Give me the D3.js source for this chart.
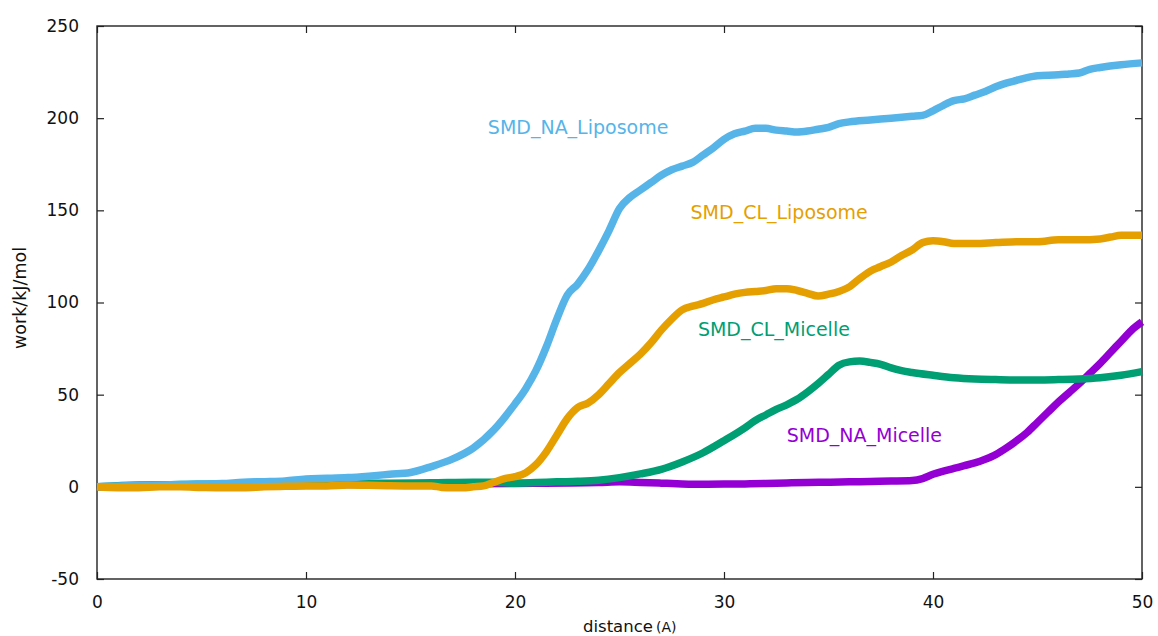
<!DOCTYPE html>
<html>
<head>
<meta charset="utf-8">
<script src="https://cdn.jsdelivr.net/npm/d3@7"></script>
<style>
  html, body { margin: 0; padding: 0; background: #fff; }
  svg { display: block; font-family: "DejaVu Sans", sans-serif; }
</style>
</head>
<body>
<svg id="chart" width="1158" height="636"></svg>
<script>
// Pulling work (kJ/mol) versus distance (Å), one series per system
const naMicelle = [
  [0,0],[5,0.5],[10,1],[15,1.5],[20,1.8],[24,2.3],[25,2.7],[26,2.4],[27,2],[28,1.6],
  [29,1.4],[30,1.5],[31,1.6],[32,1.8],[33,2.1],[34,2.4],[35,2.5],[36,2.7],[37,2.9],
  [38,3.1],[39,3.4],[39.5,4.5],[40,6.8],[40.5,8.5],[41,10],[41.5,11.5],[42,13],
  [42.5,15],[43,17.5],[43.5,21],[44,25],[44.5,29.5],[45,35],[45.5,40.5],[46,46],
  [46.5,51],[47,56],[47.5,61.5],[48,67],[48.5,73],[49,79],[49.5,85],[50,89.5]
];
const clMicelle = [
  [0,0],[2,1],[4,1.2],[6,1.5],[8,1.5],[10,1.5],[12,1.8],[14,2],[16,2.2],[18,2.5],
  [19,2.5],[20,2],[21,2.3],[22,2.7],[23,3],[24,3.6],[25,5],[26,7],[27,9.5],[28,13.5],
  [29,18.5],[30,25],[31,32],[31.5,36],[32,39],[32.5,42],[33,44.5],[33.5,47.5],[34,51.5],
  [34.5,56],[35,61],[35.5,66],[36,67.8],[36.5,68.2],[37,67.5],[37.5,66.5],[38,64.5],
  [38.5,63],[39,62],[40,60.5],[41,59.2],[42,58.5],[43,58.2],[44,58],[45,58],[46,58.2],
  [47,58.5],[48,59.2],[49,60.5],[50,62.5]
];
const naLiposome = [
  [0,0],[1,0.5],[2,0.8],[3,1],[4,1.3],[5,1.5],[6,1.8],[7,2.5],[8,2.8],[9,3.2],[10,4.3],
  [11,4.6],[12,5],[13,5.8],[14,6.8],[15,7.8],[16,11],[17,15],[18,21],[19,31],[20,45],
  [20.5,53],[21,63],[21.5,76],[22,91],[22.5,104],[23,110],[23.5,118],[24,128],[24.5,139],
  [25,151],[25.5,157],[26,161],[26.5,165],[27,169],[27.5,172],[28,174],[28.5,176],
  [29,180],[29.5,184],[30,188.5],[30.5,191.5],[31,193],[31.5,194.5],[32,194.5],
  [32.5,193.5],[33,193],[33.5,192.5],[34,193],[34.5,194],[35,195],[35.5,197],[36,198],
  [37,199],[38,200],[39,201],[39.5,201.5],[40,204],[40.5,207],[41,209.5],[41.5,210.5],
  [42,212.5],[42.5,214.5],[43,217],[43.5,219],[44,220.5],[44.5,222],[45,223],[46,223.5],
  [46.5,224],[47,224.5],[47.5,226.5],[48,227.5],[49,229],[50,230]
];
const clLiposome = [
  [0,0],[1,-0.5],[2,-0.5],[3,0],[4,0],[5,-0.3],[6,-0.5],[7,-0.5],[8,0],[9,0.3],[10,0.5],
  [11,0.5],[12,1],[13,0.8],[14,0.6],[15,0.5],[16,0.5],[16.5,-0.3],[17,-0.5],[17.5,-0.5],
  [18,0],[18.5,0.5],[19,2.5],[19.5,4.5],[20,5.5],[20.5,7.5],[21,12],[21.5,19],[22,28],
  [22.5,37],[23,43],[23.5,45.5],[24,50],[24.5,56],[25,62],[25.5,67],[26,72],[26.5,78],
  [27,85],[27.5,91],[28,96],[28.5,98],[29,99.5],[29.5,101.5],[30,103],[30.5,104.5],
  [31,105.5],[31.5,106],[32,106.5],[32.5,107.5],[33,107.5],[33.5,106.5],[34,105],
  [34.5,103.5],[35,104.5],[35.5,106],[36,108.5],[36.5,113],[37,117],[37.5,119.5],[38,122],
  [38.5,125.5],[39,128.5],[39.5,132.5],[40,133.5],[40.5,133],[41,132],[42,132],[43,132.5],
  [44,133],[45,133],[46,134],[47,134],[48,134.5],[48.5,135.5],[49,136.5],[49.5,136.5],[50,136.5]
];

const seriesNames = ["SMD_NA_Micelle", "SMD_CL_Micelle", "SMD_NA_Liposome", "SMD_CL_Liposome"];
const seriesData = [naMicelle, clMicelle, naLiposome, clLiposome];
// label anchors in data units (distance, work)
const labelAt = [[33.0, 28.2], [28.75, 85.7], [18.7, 195.3], [28.4, 149.2]];

const xTicks = [0, 10, 20, 30, 40, 50];
const yTicks = [-50, 0, 50, 100, 150, 200, 250];

const colors = ["#9400d3", "#009e73", "#56b4e9", "#e69f00"];

const svg = d3.select("#chart");
const plotLeft = 97, plotRight = 1142, plotTop = 26, plotBottom = 579;

const x = d3.scaleLinear().domain([0, 50]).range([plotLeft, plotRight]);
const y = d3.scaleLinear().domain([-50, 250]).range([plotBottom, plotTop]);

const frameColor = "#222";
const tickLen = 7;
const plainNumber = v => String(v);   // ASCII hyphen for negatives

// axes: labelled bottom/left, mirrored inward ticks on top/right
svg.append("g")
  .attr("transform", `translate(0,${plotBottom})`)
  .call(d3.axisBottom(x).tickValues(xTicks).tickFormat(plainNumber)
    .tickSizeInner(-tickLen).tickSizeOuter(0).tickPadding(17))
  .call(g => g.select(".domain").remove())
  .call(g => g.selectAll("line").attr("stroke", frameColor).attr("stroke-width", 1.2))
  .call(g => g.selectAll("text").attr("fill", "#111").attr("font-size", 17)
    .attr("font-family", "DejaVu Sans, sans-serif"));

svg.append("g")
  .attr("transform", `translate(0,${plotTop})`)
  .call(d3.axisTop(x).tickValues(xTicks).tickSizeInner(-tickLen).tickSizeOuter(0).tickFormat(""))
  .call(g => g.select(".domain").remove())
  .call(g => g.selectAll("line").attr("stroke", frameColor).attr("stroke-width", 1.2));

svg.append("g")
  .attr("transform", `translate(${plotLeft},0)`)
  .call(d3.axisLeft(y).tickValues(yTicks).tickFormat(plainNumber)
    .tickSizeInner(-tickLen).tickSizeOuter(0).tickPadding(18))
  .call(g => g.select(".domain").remove())
  .call(g => g.selectAll("line").attr("stroke", frameColor).attr("stroke-width", 1.2))
  .call(g => g.selectAll("text").attr("fill", "#111").attr("font-size", 17)
    .attr("font-family", "DejaVu Sans, sans-serif"));

svg.append("g")
  .attr("transform", `translate(${plotRight},0)`)
  .call(d3.axisRight(y).tickValues(yTicks).tickSizeInner(-tickLen).tickSizeOuter(0).tickFormat(""))
  .call(g => g.select(".domain").remove())
  .call(g => g.selectAll("line").attr("stroke", frameColor).attr("stroke-width", 1.2));

// plot border
svg.append("rect")
  .attr("x", plotLeft).attr("y", plotTop)
  .attr("width", plotRight - plotLeft).attr("height", plotBottom - plotTop)
  .attr("fill", "none").attr("stroke", frameColor).attr("stroke-width", 1.4);

// work curves, drawn in series order
const line = d3.line()
  .x(d => x(d[0]))
  .y(d => y(d[1]))
  .curve(d3.curveMonotoneX);

svg.append("g")
  .selectAll("path")
  .data(seriesData)
  .join("path")
  .attr("d", line)
  .attr("fill", "none")
  .attr("stroke", (d, i) => colors[i])
  .attr("stroke-width", 7.5)
  .attr("stroke-linejoin", "round")
  .attr("stroke-linecap", "butt");

// series labels
svg.append("g")
  .selectAll("text")
  .data(seriesNames)
  .join("text")
  .attr("x", (d, i) => x(labelAt[i][0]))
  .attr("y", (d, i) => y(labelAt[i][1]))
  .attr("dy", "0.36em")
  .attr("fill", (d, i) => colors[i])
  .attr("font-size", 19)
  .text(d => d);

// axis titles
svg.append("text")
  .attr("transform", `translate(26,298) rotate(-90)`)
  .attr("text-anchor", "middle")
  .attr("fill", "#111")
  .attr("font-size", 17.5)
  .text("work/kJ/mol");

const xt = svg.append("text")
  .attr("x", 583)
  .attr("y", 632)
  .attr("fill", "#111")
  .attr("font-size", 16.5);
xt.append("tspan").text("distance");
xt.append("tspan").attr("dx", 3).attr("font-size", 14).text("(A)");
</script>
</body>
</html>
